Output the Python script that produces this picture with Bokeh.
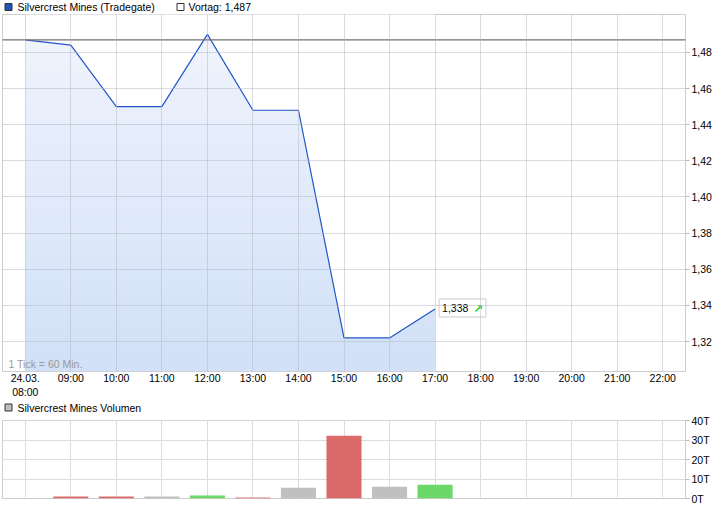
import numpy as np
from bokeh.plotting import figure
from bokeh.layouts import column
from bokeh.models import FixedTicker, Span, Label, ColumnDataSource, Range1d
from bokeh.core.properties import value
from bokeh.embed import file_html
from bokeh.resources import INLINE

# ---- data ----
hours = [8, 9, 10, 11, 12, 13, 14, 15, 16, 17]
prices = [1.487, 1.484, 1.450, 1.450, 1.490, 1.448, 1.448, 1.322, 1.322, 1.338]
prev_close = 1.487
last_label = "1,338"

vol_hours = [9, 10, 11, 12, 13, 14, 15, 16, 17]
vol_values = [1.0, 1.0, 1.0, 1.5, 0.5, 5.6, 32.3, 6.1, 7.1]  # in T (thousands)
vol_dir = ["down", "down", "flat", "up", "down", "flat", "down", "flat", "up"]

x_ticks = list(range(8, 23))
x_tick_labels = ["24.03.\n08:00", "09:00", "10:00", "11:00", "12:00", "13:00", "14:00",
                 "15:00", "16:00", "17:00", "18:00", "19:00", "20:00", "21:00", "22:00"]
y_ticks = [1.32, 1.34, 1.36, 1.38, 1.40, 1.42, 1.44, 1.46, 1.48]
y_tick_labels = ["1,32", "1,34", "1,36", "1,38", "1,40", "1,42", "1,44", "1,46", "1,48"]
vol_ticks = [0, 10, 20, 30, 40]
vol_tick_labels = ["0T", "10T", "20T", "30T", "40T"]

legend_main = ["Silvercrest Mines (Tradegate)", "Vortag: 1,487"]
legend_main_fill = ["#2255bb", "#ffffff"]
legend_vol = ["Silvercrest Mines Volumen"]
legend_vol_fill = ["#c0c0c0"]

FONT = "Liberation Sans"
FS = "10.5px"
X0, X1 = 7.5, 22.5
Y0, Y1 = 1.3034, 1.501
VY1 = 40.2
W = 726


def style_yaxis(fig, ticks, labels):
    fig.yaxis.ticker = FixedTicker(ticks=ticks)
    fig.yaxis.major_label_overrides = {t: l for t, l in zip(ticks, labels)}
    fig.yaxis.axis_line_color = None
    fig.yaxis.major_tick_line_color = "#bbbbbb"
    fig.yaxis.major_tick_out = 4
    fig.yaxis.major_tick_in = 0
    fig.yaxis.minor_tick_line_color = None
    fig.yaxis.major_label_text_font = FONT
    fig.yaxis.major_label_text_font_size = FS
    fig.yaxis.major_label_text_color = "#000000"
    fig.yaxis.major_label_standoff = 2


def legend_strip(height, labels, fills, sq_x, txt_x, sq_y, txt_y):
    s = figure(frame_width=W, frame_height=height, output_backend="svg", toolbar_location=None,
               x_range=Range1d(0, W), y_range=Range1d(0, height),
               x_axis_location=None, y_axis_location=None, min_border=0)
    s.outline_line_color = None
    s.grid.visible = False
    s.rect(x=sq_x, y=[sq_y] * len(labels), width=7, height=7, fill_color=fills,
           line_color="#333333", line_width=1)
    s.text(x=txt_x, y=[txt_y] * len(labels), text=labels, text_font=value(FONT),
           text_font_size=FS, text_color="#000000", text_baseline="middle")
    return s


# ---- legend strip above main chart ----
top_strip = legend_strip(14, legend_main, legend_main_fill, [6, 178], [15, 186], 7.5, 7.5)

# ---- main price chart ----
p = figure(frame_width=683, frame_height=357, output_backend="svg", toolbar_location=None,
           x_range=Range1d(X0, X1), y_range=Range1d(Y0, Y1),
           min_border_left=2, min_border_right=41, min_border_top=0, min_border_bottom=26,
           y_axis_location="right")
p.outline_line_color = "#cccccc"
p.background_fill_color = "white"
p.border_fill_color = "white"

# gradient fill under the line: gradient image, then white mask above the line
n = 64
grad = np.zeros((n, 2), dtype=np.uint32)
view = grad.view(dtype=np.uint8).reshape((n, 2, 4))
top_c = np.array([0xf1, 0xf5, 0xfd])
bot_c = np.array([0xd2, 0xe1, 0xf8])
for i in range(n):
    t = i / (n - 1)
    c = bot_c * (1 - t) + top_c * t
    view[i, :, 0] = int(c[0]); view[i, :, 1] = int(c[1]); view[i, :, 2] = int(c[2]); view[i, :, 3] = 255
p.image_rgba(image=[grad], x=hours[0], y=Y0, dw=hours[-1] - hours[0], dh=Y1 - Y0)
p.varea(x=hours, y1=prices, y2=[Y1] * len(hours), fill_color="white")

p.xgrid.ticker = FixedTicker(ticks=x_ticks)
p.ygrid.ticker = FixedTicker(ticks=y_ticks)
for g in (p.xgrid, p.ygrid):
    g.grid_line_color = "#b4b8c4"
    g.grid_line_alpha = 0.5
    g.level = "overlay"

p.line(hours, prices, line_color="#1f55c8", line_width=1.2)
p.add_layout(Span(location=prev_close, dimension="width", line_color="#707070", line_width=1.2))

p.xaxis.ticker = FixedTicker(ticks=x_ticks)
p.xaxis.major_label_overrides = {t: l for t, l in zip(x_ticks, x_tick_labels)}
p.xaxis.axis_line_color = None
p.xaxis.major_tick_line_color = None
p.xaxis.major_tick_out = 0
p.xaxis.major_tick_in = 0
p.xaxis.minor_tick_line_color = None
p.xaxis.minor_tick_out = 0
p.xaxis.major_label_text_font = FONT
p.xaxis.major_label_text_font_size = FS
p.xaxis.major_label_text_color = "#000000"
p.xaxis.major_label_standoff = 0

style_yaxis(p, y_ticks, y_tick_labels)

p.add_layout(Label(x=X0, y=Y0, x_offset=6, y_offset=2, text="1 Tick = 60 Min.",
                   text_font=FONT, text_font_size=FS, text_color="#999999"))
p.add_layout(Label(x=hours[-1], y=prices[-1], x_offset=4, y_offset=-8, text=last_label + "     ",
                   text_font=FONT, text_font_size=FS, text_color="#000000",
                   background_fill_color="white", border_line_color="#cccccc",
                   padding=3))
p.add_layout(Label(x=hours[-1], y=prices[-1], x_offset=38, y_offset=-7, text="\u2197",
                   text_font="DejaVu Sans", text_font_size="12px", text_font_style="bold",
                   text_color="#11dd11"))

# ---- legend strip above volume chart ----
mid_strip = legend_strip(14, legend_vol, legend_vol_fill, [6], [15], 7, 7)

# ---- volume chart ----
colors = {"down": "#db6a6a", "up": "#6ad96a", "flat": "#c0c0c0"}
vsrc = ColumnDataSource(dict(x=vol_hours, top=vol_values, color=[colors[d] for d in vol_dir]))
v = figure(frame_width=683, frame_height=78, output_backend="svg", toolbar_location=None,
           x_range=Range1d(X0, X1), y_range=Range1d(0, VY1),
           min_border_left=2, min_border_right=41, min_border_top=6, min_border_bottom=10,
           y_axis_location="right")
v.outline_line_color = "#cccccc"
v.vbar(x="x", top="top", width=0.77, bottom=0, fill_color="color", line_color=None, source=vsrc)
v.xgrid.ticker = FixedTicker(ticks=x_ticks)
v.ygrid.ticker = FixedTicker(ticks=vol_ticks)
for g in (v.xgrid, v.ygrid):
    g.grid_line_color = "#dddddd"
v.xaxis.visible = False
style_yaxis(v, vol_ticks, vol_tick_labels)

layout = column(top_strip, p, mid_strip, v, spacing=0)
open("out.html", "w").write(file_html(layout, INLINE))
